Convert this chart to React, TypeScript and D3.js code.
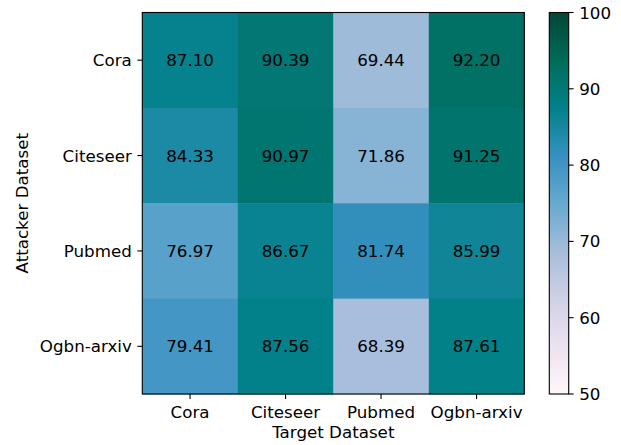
import React from "react";
import * as d3 from "d3";

const attackers = ["Cora", "Citeseer", "Pubmed", "Ogbn-arxiv"];
const targets = ["Cora", "Citeseer", "Pubmed", "Ogbn-arxiv"];
const rowCora = [87.1, 90.39, 69.44, 92.2];
const rowCiteseer = [84.33, 90.97, 71.86, 91.25];
const rowPubmed = [76.97, 86.67, 81.74, 85.99];
const rowOgbn = [79.41, 87.56, 68.39, 87.61];
const values = [rowCora, rowCiteseer, rowPubmed, rowOgbn];
const cbarTicks = [50, 60, 70, 80, 90, 100];
const vmin = 50;
const vmax = 100;
const brewer = ["#fff7fb", "#ece2f0", "#d0d1e6", "#a6bddb", "#67a9cf", "#3690c0", "#02818a", "#016c59", "#014636"];

export default function App() {
  const W = 621, H = 445;
  const left = 142.3, right = 524.3, top = 12.5, bottom = 394;
  const cbL = 549.3, cbR = 568.7;
  const font = "DejaVu Sans, sans-serif";
  const fs = 16.7;
  const vOff = fs * 0.364;

  const cmap = d3
    .scaleLinear<string>()
    .domain(brewer.map((_, i) => vmin + ((vmax - vmin) * i) / (brewer.length - 1)))
    .range(brewer)
    .interpolate(d3.interpolateRgb)
    .clamp(true);

  const x = d3.scaleBand<string>().domain(targets).range([left, right]);
  const y = d3.scaleBand<string>().domain(attackers).range([top, bottom]);
  const cy = d3.scaleLinear().domain([vmin, vmax]).range([bottom, top]);

  const gradStops = d3.range(0, 101).map((i) => ({ off: i / 100, col: cmap(vmin + ((vmax - vmin) * i) / 100) }));

  return (
    <svg width={W} height={H} style={{ position: "absolute", left: 0, top: 0 }}>
      <defs>
        <linearGradient id="cb" x1="0" y1="1" x2="0" y2="0">
          {gradStops.map((s, i) => (
            <stop key={i} offset={s.off} stopColor={s.col} />
          ))}
        </linearGradient>
      </defs>
      <rect x={0} y={0} width={W} height={H} fill="white" />
      {values.map((row, ri) =>
        row.map((v, ci) => (
          <g key={`${ri}-${ci}`}>
            <rect
              x={x(targets[ci])!}
              y={y(attackers[ri])!}
              width={x.bandwidth() + 0.5}
              height={y.bandwidth() + 0.5}
              fill={cmap(v)}
            />
            <text
              x={x(targets[ci])! + x.bandwidth() / 2}
              y={y(attackers[ri])! + y.bandwidth() / 2 + vOff}
              textAnchor="middle"
              fontFamily={font}
              fontSize={fs}
              fill="black"
            >
              {v.toFixed(2)}
            </text>
          </g>
        ))
      )}
      <rect x={left} y={top} width={right - left} height={bottom - top} fill="none" stroke="black" strokeWidth={1.1} />
      {targets.map((t) => {
        const cx = x(t)! + x.bandwidth() / 2;
        return (
          <g key={t}>
            <line x1={cx} x2={cx} y1={bottom} y2={bottom + 4.9} stroke="black" strokeWidth={1.1} />
            <text x={cx} y={417.7} textAnchor="middle" fontFamily={font} fontSize={fs}>
              {t}
            </text>
          </g>
        );
      })}
      {attackers.map((a) => {
        const yy = y(a)! + y.bandwidth() / 2;
        return (
          <g key={a}>
            <line x1={left - 4.9} x2={left} y1={yy} y2={yy} stroke="black" strokeWidth={1.1} />
            <text x={left - 10.5} y={yy + vOff} textAnchor="end" fontFamily={font} fontSize={fs}>
              {a}
            </text>
          </g>
        );
      })}
      <text x={(left + right) / 2} y={437.7} textAnchor="middle" fontFamily={font} fontSize={fs}>
        Target Dataset
      </text>
      <text
        transform={`translate(28,${(top + bottom) / 2}) rotate(-90)`}
        textAnchor="middle"
        fontFamily={font}
        fontSize={fs}
      >
        Attacker Dataset
      </text>
      <rect x={cbL} y={top} width={cbR - cbL} height={bottom - top} fill="url(#cb)" stroke="black" strokeWidth={1.1} />
      {cbarTicks.map((t) => (
        <g key={t}>
          <line x1={cbR} x2={cbR + 4.9} y1={cy(t)} y2={cy(t)} stroke="black" strokeWidth={1.1} />
          <text x={cbR + 10.5} y={cy(t) + vOff} fontFamily={font} fontSize={fs}>
            {t}
          </text>
        </g>
      ))}
    </svg>
  );
}
